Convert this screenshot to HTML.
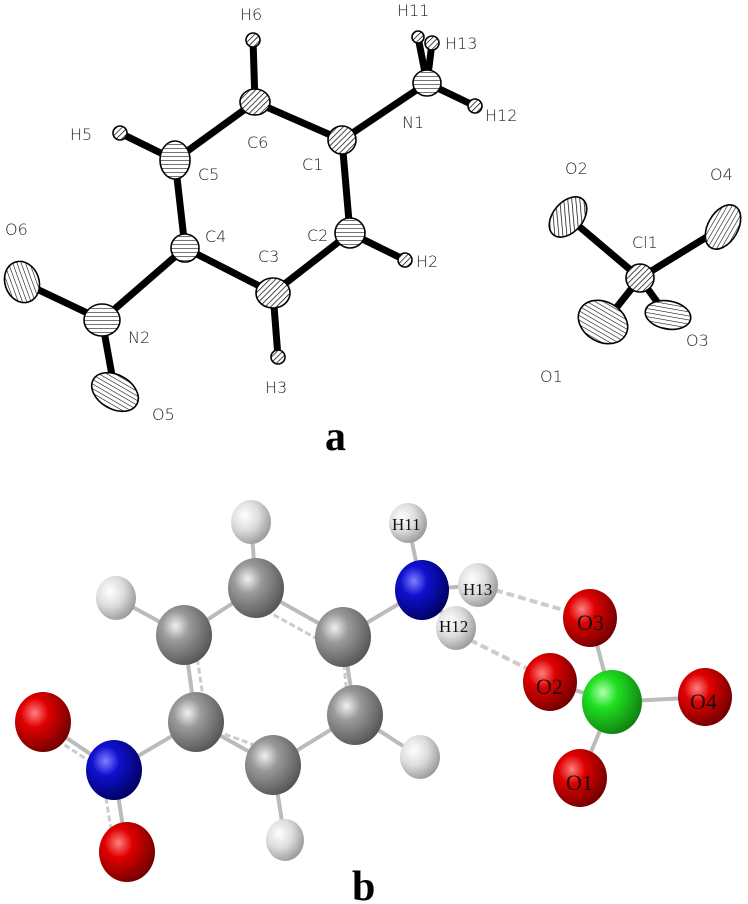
<!DOCTYPE html>
<html><head><meta charset="utf-8"><style>
html,body{margin:0;padding:0;background:#fff;width:748px;height:904px;overflow:hidden}
svg{display:block}
.l{font-family:"DejaVu Sans","Liberation Sans",sans-serif;font-size:16px;fill:#222;font-weight:300}
.g{font-family:"Liberation Serif",serif;font-size:17px;fill:#111}
</style></head><body>
<svg width="748" height="904" viewBox="0 0 748 904">
<defs>
<pattern id="h" width="4" height="4" patternUnits="userSpaceOnUse" patternTransform="rotate(45)"><rect width="4" height="4" fill="#fff"/><line x1="0" y1="0" x2="0" y2="4" stroke="#000" stroke-width="1.4"/></pattern>
<pattern id="hz" width="4" height="4" patternUnits="userSpaceOnUse"><rect width="4" height="4" fill="#fff"/><line x1="0" y1="0" x2="4" y2="0" stroke="#000" stroke-width="1.1"/></pattern>
<radialGradient id="gC" cx="0.35" cy="0.35" r="0.7"><stop offset="0" stop-color="#f0f0f0"/><stop offset="0.35" stop-color="#9a9a9a"/><stop offset="1" stop-color="#555"/></radialGradient>
<radialGradient id="gH" cx="0.35" cy="0.35" r="0.7"><stop offset="0" stop-color="#ffffff"/><stop offset="0.5" stop-color="#dcdcdc"/><stop offset="1" stop-color="#999"/></radialGradient>
<radialGradient id="gO" cx="0.35" cy="0.35" r="0.7"><stop offset="0" stop-color="#ff8080"/><stop offset="0.35" stop-color="#e00000"/><stop offset="1" stop-color="#700000"/></radialGradient>
<radialGradient id="gN" cx="0.35" cy="0.35" r="0.7"><stop offset="0" stop-color="#8080ff"/><stop offset="0.35" stop-color="#1010d0"/><stop offset="1" stop-color="#000060"/></radialGradient>
<radialGradient id="gCl" cx="0.35" cy="0.35" r="0.7"><stop offset="0" stop-color="#b0ffb0"/><stop offset="0.35" stop-color="#20e020"/><stop offset="1" stop-color="#108010"/></radialGradient>
</defs>
<!-- Part a bonds -->
<g stroke="#000" stroke-width="7" stroke-linecap="round">
<line x1="255" y1="102" x2="342" y2="140"/><line x1="255" y1="102" x2="175" y2="160"/>
<line x1="175" y1="160" x2="185" y2="248"/><line x1="185" y1="248" x2="273" y2="293"/>
<line x1="273" y1="293" x2="350" y2="233"/><line x1="350" y1="233" x2="342" y2="140"/>
<line x1="342" y1="140" x2="427" y2="83"/><line x1="185" y1="248" x2="102" y2="320"/>
<line x1="102" y1="320" x2="22" y2="282"/><line x1="102" y1="320" x2="115" y2="392"/>
<line x1="175" y1="160" x2="120" y2="133"/><line x1="255" y1="102" x2="253" y2="40"/>
<line x1="273" y1="293" x2="278" y2="357"/><line x1="350" y1="233" x2="405" y2="260"/>
<line x1="427" y1="83" x2="418" y2="37"/><line x1="427" y1="83" x2="432" y2="43"/><line x1="427" y1="83" x2="475" y2="106"/>
<line x1="640" y1="278" x2="568" y2="217"/><line x1="640" y1="278" x2="723" y2="227"/>
<line x1="640" y1="278" x2="605" y2="322"/><line x1="640" y1="278" x2="665" y2="313"/>
</g>
<g stroke="#000" stroke-width="1.6">
<ellipse cx="255" cy="102" rx="15" ry="13" fill="url(#h)"/>
<ellipse cx="342" cy="140" rx="14" ry="14" fill="url(#h)"/>
<ellipse cx="175" cy="160" rx="15" ry="19" fill="url(#hz)"/>
<ellipse cx="185" cy="248" rx="14" ry="14" fill="url(#hz)"/>
<ellipse cx="273" cy="293" rx="17" ry="15" fill="url(#h)"/>
<ellipse cx="350" cy="233" rx="15" ry="15" fill="url(#hz)"/>
<ellipse cx="102" cy="320" rx="18" ry="16" fill="url(#hz)"/>
<ellipse cx="22" cy="282" rx="21" ry="17" fill="url(#hz)" transform="rotate(70 22 282)"/>
<ellipse cx="115" cy="392" rx="25" ry="17" fill="url(#hz)" transform="rotate(30 115 392)"/>
<ellipse cx="427" cy="83" rx="14" ry="13" fill="url(#hz)"/>
<ellipse cx="568" cy="217" rx="23" ry="15" fill="url(#h)" transform="rotate(-50 568 217)"/>
<ellipse cx="723" cy="227" rx="24" ry="15" fill="url(#hz)" transform="rotate(-60 723 227)"/>
<ellipse cx="640" cy="278" rx="14" ry="14" fill="url(#h)"/>
<ellipse cx="603" cy="322" rx="26" ry="20" fill="url(#hz)" transform="rotate(30 603 322)"/>
<ellipse cx="668" cy="315" rx="23" ry="14" fill="url(#hz)" transform="rotate(10 668 315)"/>
<circle cx="120" cy="133" r="7" fill="url(#h)"/><circle cx="253" cy="40" r="7" fill="url(#h)"/>
<circle cx="278" cy="357" r="7" fill="url(#h)"/><circle cx="405" cy="260" r="7" fill="url(#h)"/>
<circle cx="418" cy="37" r="6" fill="url(#h)"/><circle cx="432" cy="43" r="7" fill="url(#h)"/><circle cx="475" cy="106" r="7" fill="url(#h)"/>
</g>
<g class="l">
<text x="240" y="20">H6</text><text x="397" y="16">H11</text><text x="445" y="49">H13</text>
<text x="402" y="128">N1</text><text x="485" y="121">H12</text>
<text x="247" y="148">C6</text><text x="302" y="170">C1</text><text x="70" y="140">H5</text>
<text x="198" y="180">C5</text><text x="205" y="242">C4</text><text x="258" y="262">C3</text>
<text x="307" y="241">C2</text><text x="416" y="267">H2</text><text x="5" y="235">O6</text>
<text x="128" y="343">N2</text><text x="265" y="393">H3</text><text x="152" y="420">O5</text>
<text x="565" y="174">O2</text><text x="710" y="180">O4</text><text x="632" y="248">Cl1</text>
<text x="540" y="382">O1</text><text x="686" y="346">O3</text>
</g>
<text x="325" y="450" font-family="Liberation Serif,serif" font-size="42" font-weight="bold">a</text>
<!-- Part b -->
<g stroke="#bbb" stroke-width="4">
<line x1="251" y1="522" x2="256" y2="588"/><line x1="116" y1="598" x2="184" y2="635"/>
<line x1="256" y1="588" x2="184" y2="635"/><line x1="256" y1="588" x2="343" y2="637"/>
<line x1="184" y1="635" x2="196" y2="722"/><line x1="343" y1="637" x2="355" y2="715"/>
<line x1="196" y1="722" x2="273" y2="765"/><line x1="355" y1="715" x2="273" y2="765"/>
<line x1="273" y1="765" x2="285" y2="840"/><line x1="355" y1="715" x2="420" y2="757"/>
<line x1="343" y1="637" x2="422" y2="590"/><line x1="422" y1="590" x2="408" y2="523"/>
<line x1="422" y1="590" x2="478" y2="585"/><line x1="422" y1="590" x2="456" y2="628"/>
<line x1="196" y1="722" x2="114" y2="770"/><line x1="114" y1="770" x2="43" y2="722"/><line x1="114" y1="770" x2="127" y2="852"/>
<line x1="612" y1="702" x2="590" y2="618"/><line x1="612" y1="702" x2="550" y2="682"/>
<line x1="612" y1="702" x2="705" y2="697"/><line x1="612" y1="702" x2="580" y2="778"/>
</g>
<g stroke="#ccc" stroke-width="3" stroke-dasharray="6 3">
<line x1="258" y1="606" x2="330" y2="646"/><line x1="196" y1="650" x2="205" y2="710"/>
<line x1="208" y1="728" x2="268" y2="750"/><line x1="343" y1="655" x2="348" y2="705"/>
<line x1="57" y1="740" x2="100" y2="768"/><line x1="103" y1="780" x2="112" y2="835"/>
</g>
<g stroke="#ccc" stroke-width="4" stroke-dasharray="8 4">
<line x1="495" y1="590" x2="570" y2="612"/><line x1="470" y1="640" x2="530" y2="670"/>
</g>
<ellipse cx="251" cy="522" rx="20" ry="22" fill="url(#gH)"/>
<ellipse cx="116" cy="598" rx="20" ry="22" fill="url(#gH)"/>
<ellipse cx="285" cy="840" rx="19" ry="21" fill="url(#gH)"/>
<ellipse cx="420" cy="757" rx="20" ry="22" fill="url(#gH)"/>
<ellipse cx="256" cy="588" rx="28" ry="30" fill="url(#gC)"/>
<ellipse cx="184" cy="635" rx="28" ry="30" fill="url(#gC)"/>
<ellipse cx="343" cy="637" rx="28" ry="30" fill="url(#gC)"/>
<ellipse cx="196" cy="722" rx="28" ry="30" fill="url(#gC)"/>
<ellipse cx="355" cy="715" rx="28" ry="30" fill="url(#gC)"/>
<ellipse cx="273" cy="765" rx="28" ry="30" fill="url(#gC)"/>
<ellipse cx="114" cy="770" rx="28" ry="30" fill="url(#gN)"/>
<ellipse cx="43" cy="722" rx="28" ry="30" fill="url(#gO)"/>
<ellipse cx="127" cy="852" rx="28" ry="30" fill="url(#gO)"/>
<ellipse cx="408" cy="523" rx="19" ry="20" fill="url(#gH)"/>
<ellipse cx="478" cy="585" rx="20" ry="22" fill="url(#gH)"/>
<ellipse cx="456" cy="628" rx="20" ry="22" fill="url(#gH)"/>
<ellipse cx="422" cy="590" rx="27" ry="30" fill="url(#gN)"/>
<ellipse cx="590" cy="618" rx="27" ry="29" fill="url(#gO)"/>
<ellipse cx="550" cy="682" rx="27" ry="29" fill="url(#gO)"/>
<ellipse cx="612" cy="702" rx="30" ry="32" fill="url(#gCl)"/>
<ellipse cx="705" cy="697" rx="27" ry="29" fill="url(#gO)"/>
<ellipse cx="580" cy="778" rx="27" ry="29" fill="url(#gO)"/>
<g class="g">
<text x="392" y="530">H11</text><text x="463" y="595">H13</text><text x="439" y="632">H12</text>
<text x="577" y="630" font-size="22">O3</text><text x="536" y="694" font-size="22">O2</text>
<text x="690" y="709" font-size="22">O4</text><text x="566" y="790" font-size="22">O1</text>
</g>
<text x="352" y="900" font-family="Liberation Serif,serif" font-size="42" font-weight="bold">b</text>
</svg>
</body></html>
